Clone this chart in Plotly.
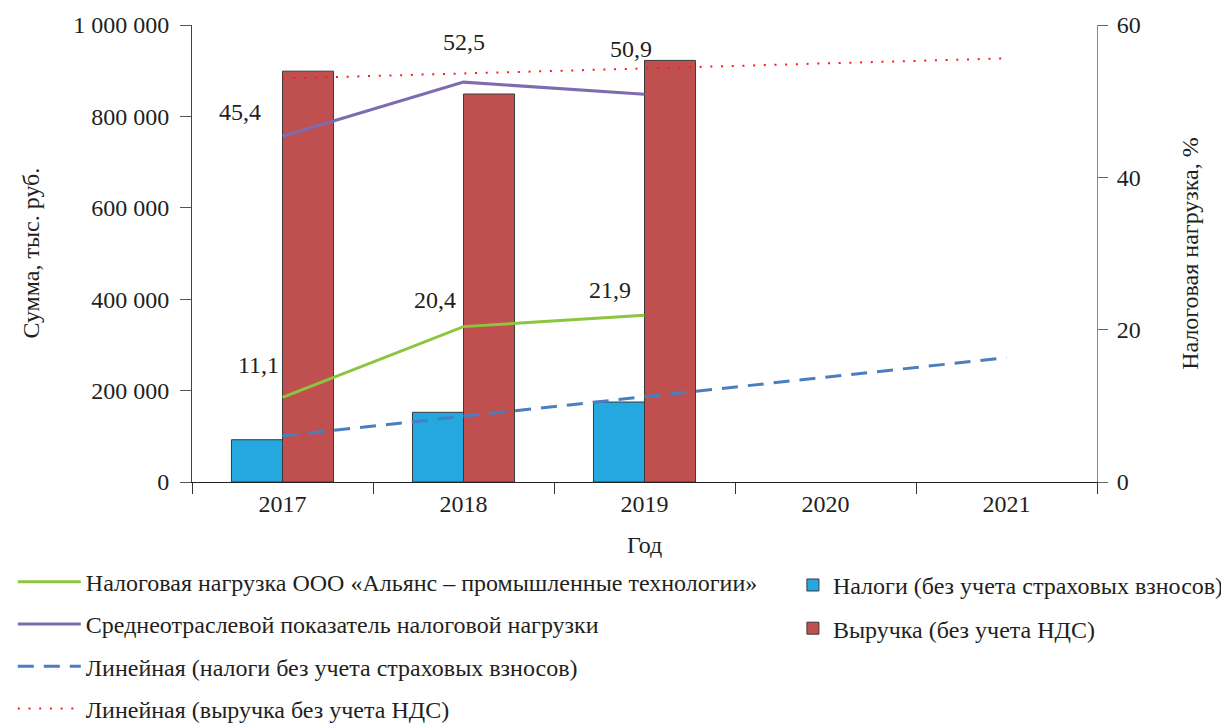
import plotly.graph_objects as go

# ---------------- data ----------------
years = ["2017", "2018", "2019", "2020", "2021"]
bar_years = ["2017", "2018", "2019"]
taxes = [92500, 152500, 175000]            # Налоги (без учета страховых взносов), тыс. руб.
revenue = [899000, 849000, 922500]         # Выручка (без учета НДС), тыс. руб.
burden_company = [11.1, 20.4, 21.9]        # Налоговая нагрузка ООО, %
burden_industry = [45.4, 52.5, 50.9]       # Среднеотраслевой показатель, %
trend_taxes = [101000, 144000, 186000, 229000, 272000]     # Линейная (налоги)
trend_revenue = [883000, 894000, 905000, 916000, 927000]   # Линейная (выручка)

left_ticks = [0, 200000, 400000, 600000, 800000, 1000000]
right_ticks = [0, 20, 40, 60]

FONT = "Liberation Serif, Times New Roman, serif"
TXT = "#231f20"
FS = 24

fig = go.Figure()

fig.add_trace(go.Bar(
    x=bar_years, y=taxes, name="Налоги (без учета страховых взносов)",
    marker=dict(color="#25a8e0", line=dict(color="#3a3a3a", width=1)),
    legend="legend2", legendgroup="b1", yaxis="y"))
fig.add_trace(go.Bar(
    x=bar_years, y=revenue, name="Выручка (без учета НДС)",
    marker=dict(color="#c0504f", line=dict(color="#3a3a3a", width=1)),
    legend="legend2", legendgroup="b2", yaxis="y"))

fig.add_trace(go.Scatter(
    x=bar_years, y=burden_company, mode="lines",
    name="Налоговая нагрузка ООО «Альянс – промышленные технологии»",
    line=dict(color="#8cc63f", width=3),
    legend="legend", legendgroup="l1", yaxis="y2"))
fig.add_trace(go.Scatter(
    x=bar_years, y=burden_industry, mode="lines",
    name="Среднеотраслевой показатель налоговой нагрузки",
    line=dict(color="#7e6bb0", width=3),
    legend="legend", legendgroup="l2", yaxis="y2"))
fig.add_trace(go.Scatter(
    x=years, y=trend_taxes, mode="lines",
    name="Линейная (налоги без учета страховых взносов)",
    line=dict(color="#4a7ebf", width=3, dash="16px,10px"),
    legend="legend", legendgroup="l3", yaxis="y"))
fig.add_trace(go.Scatter(
    x=years, y=trend_revenue, mode="lines",
    name="Линейная (выручка без учета НДС)",
    line=dict(color="#ff1a1a", width=2, dash="2px,8.7px"),
    legend="legend", legendgroup="l4", yaxis="y"))

# value labels
def fmt(v):
    return f"{v:.1f}".replace(".", ",")

ind_shift = [(-43, 24), (0, 40), (-14, 45)]
com_shift = [(-24, 32), (-29, 27), (-35, 25)]
annotations = []
for i, (v, (dx, dy)) in enumerate(zip(burden_industry, ind_shift)):
    annotations.append(dict(x=i, y=v, xref="x", yref="y2", text=fmt(v),
                            showarrow=False, xshift=dx, yshift=dy,
                            font=dict(family=FONT, size=FS, color=TXT)))
for i, (v, (dx, dy)) in enumerate(zip(burden_company, com_shift)):
    annotations.append(dict(x=i, y=v, xref="x", yref="y2", text=fmt(v),
                            showarrow=False, xshift=dx, yshift=dy,
                            font=dict(family=FONT, size=FS, color=TXT)))

# axis titles
annotations.append(dict(text="Сумма, тыс. руб.", x=-0.179, y=0.5, xref="paper", yref="paper",
                        textangle=-90, showarrow=False, xanchor="center", yanchor="middle",
                        font=dict(family=FONT, size=FS, color=TXT)))
annotations.append(dict(text="Налоговая нагрузка, %", x=1.102, y=0.5, xref="paper", yref="paper",
                        textangle=-90, showarrow=False, xanchor="center", yanchor="middle",
                        font=dict(family=FONT, size=FS, color=TXT)))
annotations.append(dict(text="Год", x=0.5, y=-0.138, xref="paper", yref="paper",
                        showarrow=False, xanchor="center", yanchor="middle",
                        font=dict(family=FONT, size=FS, color=TXT)))

fig.update_layout(
    width=1229, height=725,
    margin=dict(l=184, r=140, t=17, b=251, autoexpand=False),
    paper_bgcolor="white", plot_bgcolor="white",
    separators=", ",
    font=dict(family=FONT, size=FS, color=TXT),
    barmode="group", bargap=0.436, bargroupgap=0,
    xaxis=dict(type="category", categoryorder="array", categoryarray=years,
               range=[-0.5, 4.5], tickson="boundaries", ticks="outside", ticklen=11,
               tickcolor="#333", showline=True, linecolor="#222", linewidth=1,
               showgrid=False, zeroline=False, tickfont=dict(size=FS)),
    yaxis=dict(range=[0, 1000000], tickvals=left_ticks, tickformat=",d",
               ticks="outside", ticklen=11, tickcolor="#555", showline=True,
               linecolor="#444", linewidth=1, showgrid=False, zeroline=False,
               ticklabelstandoff=6, tickfont=dict(size=FS)),
    yaxis2=dict(range=[0, 60], tickvals=right_ticks, overlaying="y", side="right",
                ticks="outside", ticklen=10, tickcolor="#666", showline=True,
                linecolor="#888", linewidth=1, showgrid=False, zeroline=False,
                ticklabelstandoff=4, tickfont=dict(size=FS)),
    legend=dict(x=-0.198, y=-0.170, xanchor="left", yanchor="top",
                orientation="v", traceorder="grouped", tracegroupgap=8,
                font=dict(family=FONT, size=FS, color=TXT), bgcolor="rgba(0,0,0,0)",
                itemwidth=63),
    legend2=dict(x=0.664, y=-0.177, xanchor="left", yanchor="top",
                 orientation="v", traceorder="grouped", tracegroupgap=9,
                 font=dict(family=FONT, size=FS, color=TXT), bgcolor="rgba(0,0,0,0)"),
    annotations=annotations,
    showlegend=True,
)

fig.write_html("out.html")
